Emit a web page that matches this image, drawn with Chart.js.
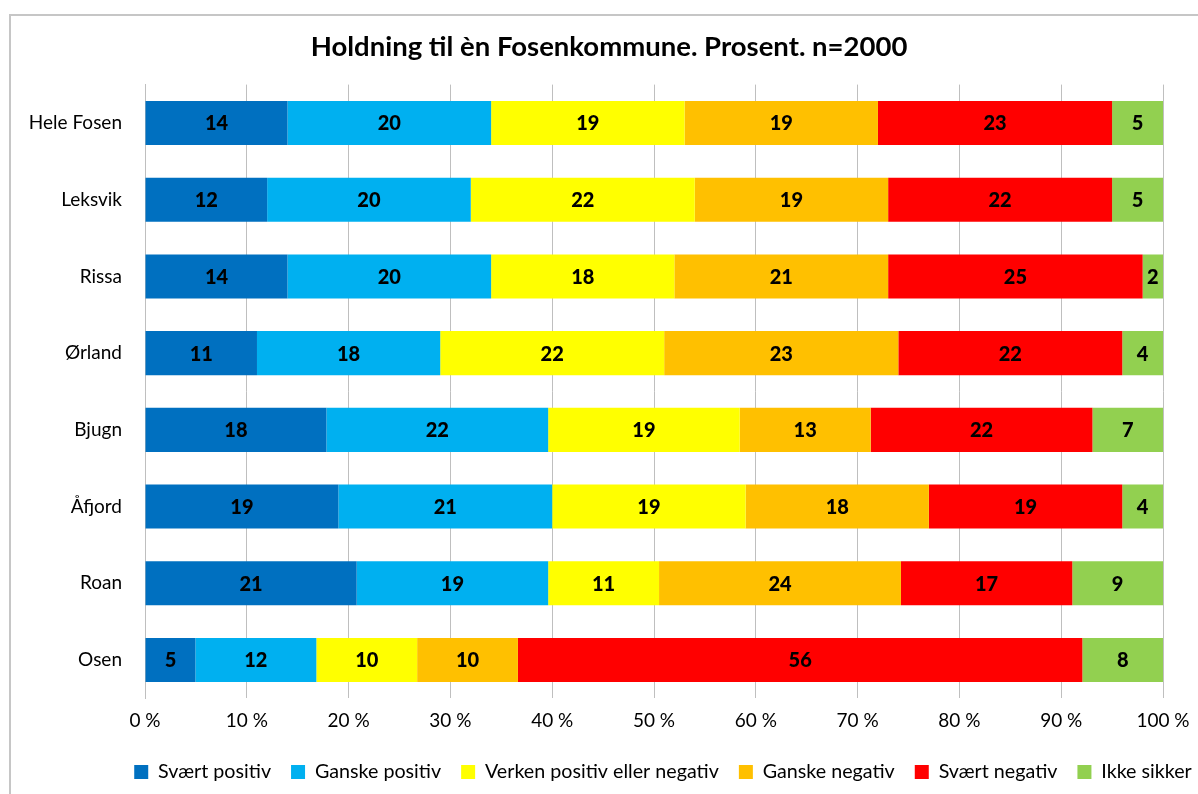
<!DOCTYPE html>
<html>
<head>
<meta charset="utf-8">
<script src="https://cdn.jsdelivr.net/npm/chart.js@4"></script>
<style>
  html, body { margin: 0; padding: 0; background: #fff; }
  #wrap { position: relative; width: 1198px; height: 794px; }
  #frame { position: absolute; left: 9px; top: 14px; width: 1189px; height: 780px;
           border-left: 2px solid #c6c6c6; border-top: 2px solid #c6c6c6; pointer-events: none; box-sizing: border-box; }
  canvas { position: absolute; left: 0; top: 0; }
</style>
</head>
<body>
<div id="wrap">
  <canvas id="c" width="1198" height="794"></canvas>
  <div id="frame"></div>
</div>
<script>
const categories = ["Hele Fosen", "Leksvik", "Rissa", "Ørland", "Bjugn", "Åfjord", "Roan", "Osen"];
const seriesNames = ["Svært positiv", "Ganske positiv", "Verken positiv eller negativ", "Ganske negativ", "Svært negativ", "Ikke sikker"];
const sværtPositiv   = [14, 12, 14, 11, 18, 19, 21, 5];
const ganskePositiv  = [20, 20, 20, 18, 22, 21, 19, 12];
const verken         = [19, 22, 18, 22, 19, 19, 11, 10];
const ganskeNegativ  = [19, 19, 21, 23, 13, 18, 24, 10];
const sværtNegativ   = [23, 22, 25, 22, 22, 19, 17, 56];
const ikkeSikker     = [5, 5, 2, 4, 7, 4, 9, 8];
const xTicks = [0, 10, 20, 30, 40, 50, 60, 70, 80, 90, 100];
const colors = ["#0070C0", "#00B0F0", "#FFFF00", "#FFC000", "#FF0000", "#92D050"];

const raw = [sværtPositiv, ganskePositiv, verken, ganskeNegativ, sværtNegativ, ikkeSikker];
// 100% stacked: each row is shown as share of its row total (like Excel's 100% stacked bar)
const totals = categories.map((_, i) => raw.reduce((s, arr) => s + arr[i], 0));

const FONT = "Lato, 'Open Sans', sans-serif";

const datasets = raw.map((arr, k) => ({
  label: seriesNames[k],
  data: arr.map((v, i) => v / totals[i] * 100),
  rawValues: arr,
  backgroundColor: colors[k],
  borderWidth: 0,
  barPercentage: 0.574,
  categoryPercentage: 1.0
}));

const valueLabels = {
  id: 'valueLabels',
  afterDatasetsDraw(chart) {
    const ctx = chart.ctx;
    ctx.save();
    ctx.font = "900 20px " + FONT;
    ctx.fillStyle = "#000";
    ctx.textAlign = "center";
    ctx.textBaseline = "middle";
    chart.data.datasets.forEach((ds, k) => {
      const meta = chart.getDatasetMeta(k);
      meta.data.forEach((bar, i) => {
        const x = (bar.x + bar.base) / 2;
        ctx.fillText(String(ds.rawValues[i]), x, bar.y + 1);
      });
    });
    ctx.restore();
  }
};

const boxShift = {
  id: 'boxShift',
  afterLayout(chart) {
    const t = chart.titleBlock;
    const tc = (t.left + t.right) / 2, tdx = 609 - tc;
    t.left += tdx; t.right += tdx;
    const l = chart.legend;
    const lc = (l.left + l.right) / 2, ldx = 663 - lc;
    l.left += ldx; l.right += ldx;
  }
};

new Chart(document.getElementById('c'), {
  type: 'bar',
  data: { labels: categories, datasets },
  plugins: [valueLabels, boxShift],
  options: {
    indexAxis: 'y',
    responsive: false,
    animation: false,
    layout: { padding: { left: 15, right: 35, top: 0, bottom: 2.25 } },
    plugins: {
      title: {
        display: true,
        text: "Holdning til èn Fosenkommune. Prosent. n=2000",
        color: "#000",
        font: { family: FONT, size: 27.5, weight: "bold", lineHeight: 1.2 },
        padding: { top: 30.5, bottom: 21.1 }
      },
      legend: {
        position: 'bottom',
        labels: {
          color: "#000",
          font: { family: FONT, size: 19.7 },
          boxWidth: 14,
          boxHeight: 14,
          padding: 20
        }
      },
      tooltip: { enabled: false }
    },
    scales: {
      x: {
        stacked: true,
        min: 0,
        max: 100,
        afterBuildTicks(scale) { scale.ticks = xTicks.map(v => ({ value: v })); },
        afterFit(scale) { scale.height = 43.65; scale.paddingLeft = 0; scale.paddingRight = 0; },
        ticks: {
          color: "#000",
          font: { family: FONT, size: 19 },
          padding: 11,
          maxRotation: 0,
          callback: v => v + " %"
        },
        grid: { color: "#bfbfbf", lineWidth: 1, drawTicks: false },
        border: { display: false }
      },
      y: {
        stacked: true,
        afterFit(scale) { scale.width = 130; },
        ticks: {
          color: "#000",
          font: { family: FONT, size: 19 },
          padding: 23
        },
        grid: { display: false, drawTicks: false },
        border: { display: true, color: "#bfbfbf", width: 1 }
      }
    }
  }
});
</script>
</body>
</html>
